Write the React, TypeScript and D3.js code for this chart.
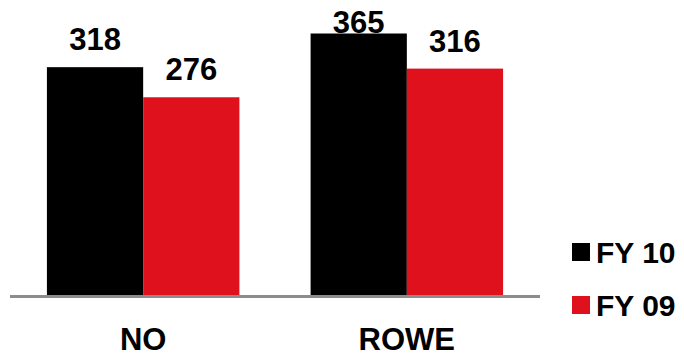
import React from "react";
import * as d3 from "d3";

const categories = ["NO", "ROWE"];
const seriesNames = ["FY 10", "FY 09"];
const fy10 = [318, 365];
const fy09 = [276, 316];
const seriesColors = ["#000000", "#df111c"];

export default function App() {
  const W = 684;
  const H = 357;
  const baseY = 295;
  const plotTop = 33;
  const x0 = d3.scaleBand<string>().domain(categories).range([10, 540]).paddingInner(0.27).paddingOuter(0.14);
  const x1 = d3.scaleBand<string>().domain(seriesNames).range([0, x0.bandwidth()]).padding(0);
  const y = d3.scaleLinear().domain([0, 365]).range([baseY, 33.5]);
  const values = [fy10, fy09];
  const font = "'Liberation Sans', Arial, sans-serif";

  return (
    <svg width={W} height={H} style={{ position: "absolute", left: 0, top: 0 }}>
      <rect width={W} height={H} fill="#fff" />
      {categories.map((c, ci) =>
        seriesNames.map((s, si) => {
          const v = values[si][ci];
          const bx = (x0(c) ?? 0) + (x1(s) ?? 0);
          const top = y(v);
          const ly = Math.max(top - 17, plotTop);
          return (
            <g key={c + s}>
              <rect x={bx} y={top} width={x1.bandwidth()} height={baseY - top} fill={seriesColors[si]} />
              <text x={bx + x1.bandwidth() / 2} y={ly} textAnchor="middle" fontFamily={font} fontWeight="bold" fontSize={31} fill="#000">
                {v}
              </text>
            </g>
          );
        })
      )}
      <line x1={10} x2={540} y1={296.5} y2={296.5} stroke="#8c8c8c" strokeWidth={3} />
      {categories.map((c) => (
        <text key={c} x={(x0(c) ?? 0) + x0.bandwidth() / 2} y={350} textAnchor="middle" fontFamily={font} fontWeight="bold" fontSize={31} fill="#000">
          {c}
        </text>
      ))}
      {seriesNames.map((s, si) => (
        <g key={s} transform={`translate(572, ${243 + si * 53})`}>
          <rect x={0} y={0} width={18} height={18} fill={seriesColors[si]} />
          <text x={24} y={19.5} fontFamily={font} fontWeight="bold" fontSize={30} fill="#000">
            {s}
          </text>
        </g>
      ))}
    </svg>
  );
}
